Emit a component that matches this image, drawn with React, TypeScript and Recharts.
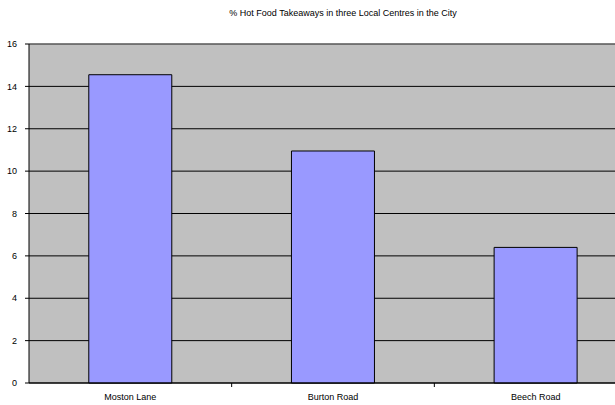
import React from 'react';
import { BarChart, Bar, XAxis, YAxis, CartesianGrid, ReferenceLine } from 'recharts';

const categories = ['Moston Lane', 'Burton Road', 'Beech Road'];
const takeawayPct = [14.55, 10.95, 6.4];
const yTicks = [0, 2, 4, 6, 8, 10, 12, 14, 16];

const TITLE = '% Hot Food Takeaways in three Local Centres in the City';

const chartData = categories.map((name, i) => ({ name, value: takeawayPct[i] }));

const FONT = '"Liberation Sans", Arial, sans-serif';
const PLOT_LEFT = 29;
const PLOT_RIGHT = 637;
const BAND = (PLOT_RIGHT - PLOT_LEFT) / categories.length;

// excel puts the category ticks on the boundaries, not under the bars
function CategoryTick(props: any) {
  const { x, y, payload } = props;
  const axisY = y - 8;
  return (
    <g>
      <line x1={x + BAND / 2} y1={axisY} x2={x + BAND / 2} y2={axisY + 4} stroke="#000" />
      <text x={x} y={axisY + 17} textAnchor="middle" fontSize={9} fontFamily={FONT} fill="#000">
        {payload.value}
      </text>
    </g>
  );
}

export default function App() {
  return (
    <div style={{ position: 'fixed', left: 0, top: 0, width: 615, height: 405, overflow: 'hidden', background: '#fff' }}>
      <div
        style={{
          position: 'absolute',
          left: 143,
          width: 400,
          top: 8,
          textAlign: 'center',
          fontFamily: FONT,
          fontSize: 9,
          color: '#000',
        }}
      >
        {TITLE}
      </div>
      <BarChart
        width={PLOT_RIGHT + 3}
        height={405}
        data={chartData}
        margin={{ top: 44, right: 3, bottom: 0, left: 0 }}
        barCategoryGap="29.5%"
      >
        <CartesianGrid fill="#C0C0C0" stroke="#000" vertical={false} />
        <ReferenceLine y={16} stroke="#808080" />
        <XAxis
          dataKey="name"
          height={22}
          axisLine={{ stroke: '#000' }}
          tickLine={false}
          tick={<CategoryTick />}
          interval={0}
        />
        <YAxis
          width={PLOT_LEFT}
          domain={[0, 16]}
          ticks={yTicks}
          interval={0}
          axisLine={{ stroke: '#000' }}
          tickLine={{ stroke: '#000' }}
          tickSize={4}
          tickMargin={8}
          tick={{ fontSize: 9, fontFamily: FONT, fill: '#000' }}
        />
        <Bar dataKey="value" fill="#9999FF" stroke="#000" strokeWidth={1} isAnimationActive={false} />
      </BarChart>
    </div>
  );
}
